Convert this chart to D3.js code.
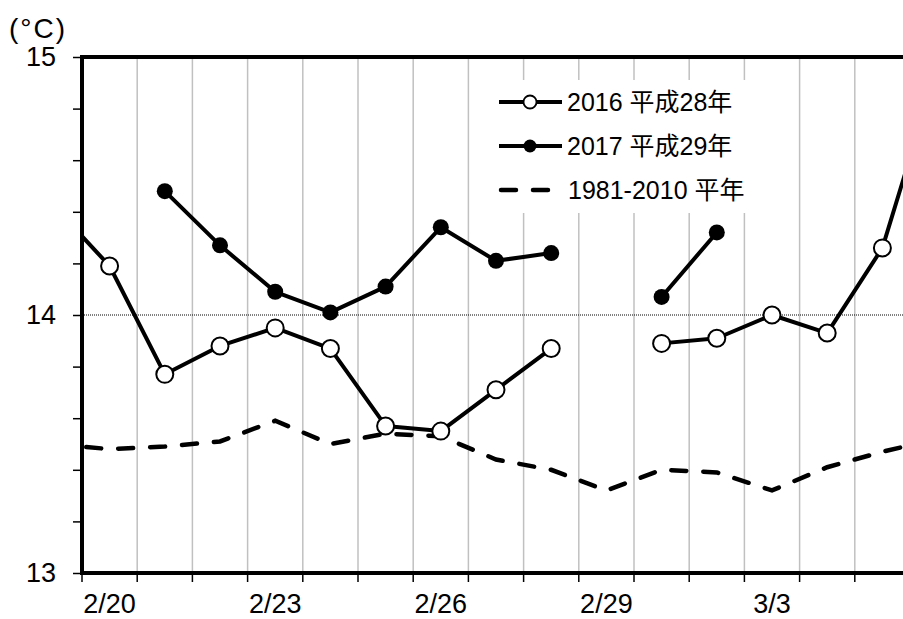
<!DOCTYPE html>
<html>
<head>
<meta charset="utf-8">
<script src="https://cdn.jsdelivr.net/npm/d3@7"></script>
<style>
  body { margin: 0; background: #fff; }
  svg { display: block; font-family: "Liberation Sans", Arial, "Noto Sans CJK JP", sans-serif; }
</style>
</head>
<body>
<svg id="chart" width="903" height="619"></svg>
<script>
// Daily dates (2/19 and 3/6 sit just outside the visible window)
const dates = ["2/19", "2/20", "2/21", "2/22", "2/23", "2/24", "2/25", "2/26", "2/27",
               "2/28", "2/29", "3/1", "3/2", "3/3", "3/4", "3/5", "3/6"];
const dateLabels = ["2/20", "2/23", "2/26", "2/29", "3/3"];

// Mean temperature (°C); null = no value
const temp2016 = [14.42, 14.19, 13.77, 13.88, 13.95, 13.87, 13.57, 13.55, 13.71,
                  13.87, null, 13.89, 13.91, 14.00, 13.93, 14.26, 14.96];
const temp2017 = [null, null, 14.48, 14.27, 14.09, 14.01, 14.11, 14.34, 14.21,
                  14.24, null, 14.07, 14.32, null, null, null, null];
const normal = [13.50, 13.48, 13.49, 13.51, 13.59, 13.50, 13.54, 13.53, 13.44,
                13.40, 13.32, 13.40, 13.39, 13.32, 13.41, 13.47, 13.52];

const yTicks = [13, 13.2, 13.4, 13.6, 13.8, 14, 14.2, 14.4, 14.6, 14.8, 15];
const seriesNames = ["2016 平成28年", "2017 平成29年", "1981-2010 平年"];

const svg = d3.select("#chart");
const pL = 82, pT = 57, pB = 573, pR = 903;
const step = 55.2;

const x = d3.scaleBand()
  .domain(dates)
  .range([pL - step, pL - step + step * dates.length])
  .paddingInner(0).paddingOuter(0);
const cx = d => x(d) + x.bandwidth() / 2;

const y = d3.scaleLinear().domain([13, 15]).range([pB, pT]);

svg.append("defs").append("clipPath").attr("id", "plot")
  .append("rect").attr("x", pL).attr("y", pT - 20)
  .attr("width", pR - pL + 40).attr("height", pB - pT + 40);

// vertical gridlines at day boundaries
svg.append("g").selectAll("line")
  .data(dates.filter((d, i) => i >= 2))
  .join("line")
  .attr("x1", d => x(d)).attr("x2", d => x(d))
  .attr("y1", pT).attr("y2", pB)
  .attr("stroke", "#c0c0c0").attr("stroke-width", 1.5);

// 14 °C reference line
svg.append("line")
  .attr("x1", pL).attr("x2", pR + 10)
  .attr("y1", y(14)).attr("y2", y(14))
  .attr("stroke", "#000").attr("stroke-width", 1)
  .attr("stroke-dasharray", "1,1");

// legend background
svg.append("rect").attr("x", 492).attr("y", 80).attr("width", 256).attr("height", 133)
  .attr("fill", "#fff");

const plot = svg.append("g").attr("clip-path", "url(#plot)");

const line = d3.line()
  .defined(d => d.v !== null)
  .x(d => cx(d.d)).y(d => y(d.v));
const pts = arr => dates.map((d, i) => ({ d, v: arr[i] }));

plot.append("path").datum(pts(normal))
  .attr("d", line).attr("fill", "none")
  .attr("stroke", "#000").attr("stroke-width", 4.5)
  .attr("stroke-linecap", "round")
  .attr("stroke-dasharray", "15,17");

plot.append("path").datum(pts(temp2016))
  .attr("d", line).attr("fill", "none")
  .attr("stroke", "#000").attr("stroke-width", 4).attr("stroke-linejoin", "round");

plot.append("path").datum(pts(temp2017))
  .attr("d", line).attr("fill", "none")
  .attr("stroke", "#000").attr("stroke-width", 4).attr("stroke-linejoin", "round");

plot.append("g").selectAll("circle")
  .data(pts(temp2016).filter(p => p.v !== null))
  .join("circle")
  .attr("cx", p => cx(p.d)).attr("cy", p => y(p.v)).attr("r", 8.5)
  .attr("fill", "#fff").attr("stroke", "#000").attr("stroke-width", 2);

plot.append("g").selectAll("circle")
  .data(pts(temp2017).filter(p => p.v !== null))
  .join("circle")
  .attr("cx", p => cx(p.d)).attr("cy", p => y(p.v)).attr("r", 8)
  .attr("fill", "#000");

// x axis: ticks at day boundaries, labels centred under every third day
const xAxisG = svg.append("g");
xAxisG.selectAll("line")
  .data(dates.filter((d, i) => i >= 1))
  .join("line")
  .attr("x1", d => x(d)).attr("x2", d => x(d))
  .attr("y1", pB).attr("y2", pB + 9)
  .attr("stroke", "#000").attr("stroke-width", 1.5);
xAxisG.selectAll("text")
  .data(dateLabels)
  .join("text")
  .attr("x", d => cx(d)).attr("y", 613)
  .attr("text-anchor", "middle")
  .attr("font-size", 27)
  .text(d => d);

// y axis
const yAxis = d3.axisLeft(y)
  .tickValues(yTicks)
  .tickSize(9)
  .tickPadding(17)
  .tickFormat(v => Math.abs(v - Math.round(v)) < 1e-9 ? d3.format("d")(v) : "");
const yG = svg.append("g").attr("transform", `translate(${pL},0)`).call(yAxis);
yG.select(".domain").remove();
yG.selectAll(".tick line").attr("stroke", "#000").attr("stroke-width", 1.5);
yG.selectAll(".tick text").attr("font-size", 27).attr("fill", "#000")
  .attr("font-family", "'Liberation Sans', Arial, sans-serif");

// frame: left, top and bottom axis lines
svg.append("line").attr("x1", pL).attr("x2", pL).attr("y1", pT - 2).attr("y2", pB + 2)
  .attr("stroke", "#000").attr("stroke-width", 4);
svg.append("line").attr("x1", pL - 2).attr("x2", pR + 10).attr("y1", pT).attr("y2", pT)
  .attr("stroke", "#000").attr("stroke-width", 4);
svg.append("line").attr("x1", pL - 2).attr("x2", pR + 10).attr("y1", pB).attr("y2", pB)
  .attr("stroke", "#000").attr("stroke-width", 4);

// unit
svg.append("text").attr("x", 9).attr("y", 38).attr("font-size", 28)
  .attr("letter-spacing", 2).text("(°C)");

// legend
const lg = svg.append("g");
const rowsY = [102, 146, 190];
const lx0 = 499, lx1 = 562, tx = 567;
lg.append("line").attr("x1", lx0).attr("x2", lx1).attr("y1", rowsY[0]).attr("y2", rowsY[0])
  .attr("stroke", "#000").attr("stroke-width", 4);
lg.append("circle").attr("cx", 530).attr("cy", rowsY[0]).attr("r", 6.5)
  .attr("fill", "#fff").attr("stroke", "#000").attr("stroke-width", 1.8);
lg.append("line").attr("x1", lx0).attr("x2", lx1).attr("y1", rowsY[1]).attr("y2", rowsY[1])
  .attr("stroke", "#000").attr("stroke-width", 4);
lg.append("circle").attr("cx", 530).attr("cy", rowsY[1]).attr("r", 6.5).attr("fill", "#000");
lg.append("line").attr("x1", lx0 + 2).attr("x2", 548).attr("y1", rowsY[2]).attr("y2", rowsY[2])
  .attr("stroke", "#000").attr("stroke-width", 4.5)
  .attr("stroke-linecap", "round").attr("stroke-dasharray", "15,17");
lg.selectAll("text").data(seriesNames).join("text")
  .attr("x", (d, i) => i === 2 ? tx + 1 : tx).attr("y", (d, i) => rowsY[i] + 9)
  .attr("font-size", 25)
  .text(d => d);
</script>
</body>
</html>
